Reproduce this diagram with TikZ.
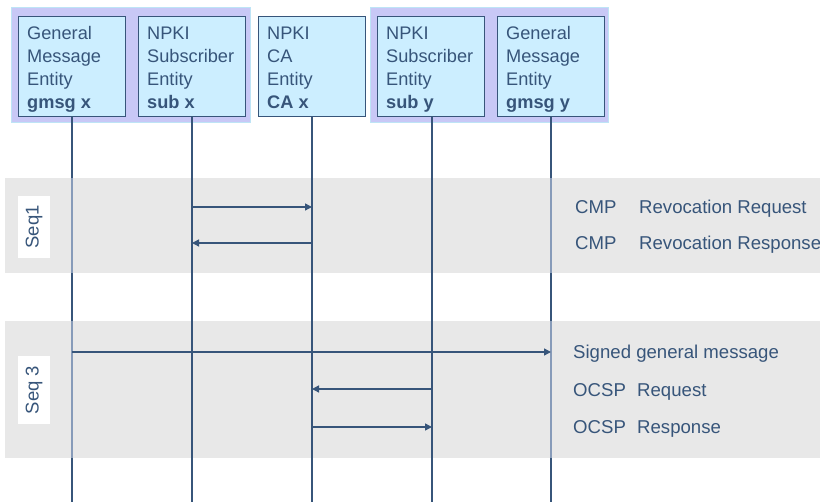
\documentclass[tikz,border=0pt]{standalone}
\usepackage{fontspec}
\setmainfont{Liberation Sans}
\usetikzlibrary{arrows.meta}
\definecolor{ink}{RGB}{55,85,122}
\definecolor{boxfill}{RGB}{204,238,255}
\definecolor{grp}{RGB}{200,200,246}
\definecolor{grpedge}{RGB}{190,228,246}
\definecolor{band}{RGB}{232,232,232}
\definecolor{lightline}{RGB}{135,155,185}
\tikzset{
  ebox/.style={draw=ink, line width=1.2pt, fill=boxfill, anchor=north west, minimum width=107pt, minimum height=100pt, inner sep=0pt},
  etext/.style={anchor=base west, align=left, inner sep=0pt, text=ink, font=\fontsize{18.2}{23}\selectfont},
  grpbox/.style={draw=grpedge, line width=1pt, fill=grp},
  bandbox/.style={fill=band, draw=none},
  seqlab/.style={fill=white, text=ink, rotate=90, minimum width=62pt, minimum height=32pt, inner sep=0pt, font=\fontsize{18.5}{20}\selectfont},
  life/.style={draw=ink, line width=1.4pt},
  msg/.style={draw=ink, line width=1.4pt, -{Triangle[length=7pt,width=7pt]}},
  lbl/.style={anchor=base west, text=ink, inner sep=0pt, font=\fontsize{18.6}{20}\selectfont}
}
\begin{document}
\begin{tikzpicture}[x=1pt,y=-1pt]
\useasboundingbox (0,0) rectangle (820,502);
% groups
\draw[grpbox] (11,8) rectangle (250,123);
\draw[grpbox] (370,8) rectangle (608,123);
% entity boxes
\node[ebox] (b1) at (18,16) {};
\node[ebox] (b2) at (138,16) {};
\node[ebox] (b3) at (258,16) {};
\node[ebox] (b4) at (377,16) {};
\node[ebox] (b5) at (497,16) {};
\node[etext] (t1) at ([shift={(9,93)}]b1.north west) {General\\Message\\Entity\\\textbf{gmsg x}};
\node[etext] (t2) at ([shift={(9,93)}]b2.north west) {NPKI\\Subscriber\\Entity\\\textbf{sub x}};
\node[etext] (t3) at ([shift={(9,93)}]b3.north west) {NPKI\\CA\\Entity\\\textbf{CA x}};
\node[etext] (t4) at ([shift={(9,93)}]b4.north west) {NPKI\\Subscriber\\Entity\\\textbf{sub y}};
\node[etext] (t5) at ([shift={(9,93)}]b5.north west) {General\\Message\\Entity\\\textbf{gmsg y}};
% lifeline ends
\coordinate (e1) at (72,502);
\coordinate (e2) at (192,502);
\coordinate (e3) at (312,502);
\coordinate (e4) at (432,502);
\coordinate (e5) at (551,502);
% bands
\fill[bandbox] (5,178) rectangle (820,273);
\fill[bandbox] (5,321) rectangle (820,458);
% lifelines
\draw[life] (b1.south -| e1) -- (e1);
\draw[life] (b2.south -| e2) -- (e2);
\draw[life] (b3.south -| e3) -- (e3);
\draw[life] (b4.south -| e4) -- (e4);
\draw[life] (b5.south -| e5) -- (e5);
\draw[lightline, line width=1.4pt] (72,178) -- (72,273) (72,321) -- (72,458);
\draw[lightline, line width=1.4pt] (551,178) -- (551,273) (551,321) -- (551,458);
% seq labels
\node[seqlab] (s1) at (34,227) {Seq1};
\node[seqlab, minimum width=68pt] (s3) at (34,390) {Seq 3};
% message anchor points
\coordinate (m1a) at (192,207); \coordinate (m1b) at (312,207);
\coordinate (m2a) at (312,243); \coordinate (m2b) at (192,243);
\coordinate (m3a) at (72,352);  \coordinate (m3b) at (551,352);
\coordinate (m4a) at (432,389); \coordinate (m4b) at (312,389);
\coordinate (m5a) at (312,427); \coordinate (m5b) at (432,427);
\draw[msg] (m1a) -- (m1b);
\draw[msg] (m2a) -- (m2b);
\draw[msg] (m3a) -- (m3b);
\draw[msg] (m4a) -- (m4b);
\draw[msg] (m5a) -- (m5b);
% labels
\node[lbl] (l1a) at (575,214) {CMP};
\node[lbl] (l1b) at (639,214) {Revocation Request};
\node[lbl] (l2a) at (575,250) {CMP};
\node[lbl] (l2b) at (639,250) {Revocation Response};
\node[lbl] (l3) at (573,358.5) {Signed general message};
\node[lbl] (l4a) at (573,396.5) {OCSP};
\node[lbl] (l4b) at (637,396.5) {Request};
\node[lbl] (l5a) at (573,433.5) {OCSP};
\node[lbl] (l5b) at (637,433.5) {Response};
\end{tikzpicture}
\end{document}
